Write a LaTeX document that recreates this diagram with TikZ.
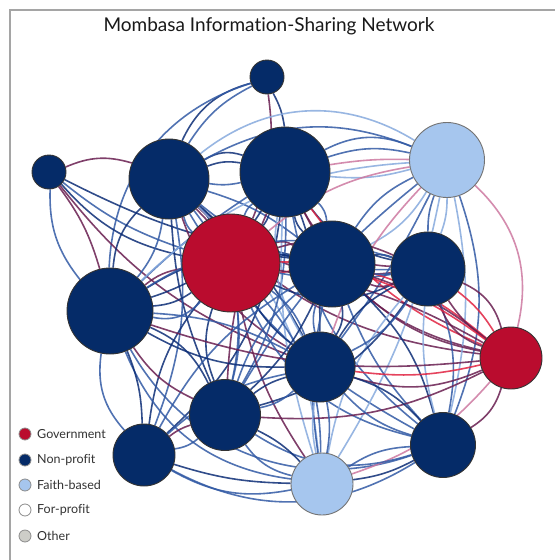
\documentclass[tikz,border=0pt]{standalone}
\usepackage{fontspec}
\setmainfont[Ligatures={NoCommon}]{Lato}
\definecolor{navy}{RGB}{5,43,104}
\definecolor{govred}{RGB}{186,12,46}
\definecolor{faith}{RGB}{166,198,238}
\definecolor{otherg}{RGB}{205,205,200}
\definecolor{cEA}{RGB}{12,45,118}
\definecolor{cEB}{RGB}{50,90,165}
\definecolor{cEC}{RGB}{135,170,222}
\definecolor{cPA}{RGB}{105,30,80}
\definecolor{cPB}{RGB}{205,120,160}
\definecolor{cRA}{RGB}{225,35,65}
\definecolor{framegray}{RGB}{165,165,165}
\pgfdeclarelayer{bg}
\pgfdeclarelayer{edges}
\pgfsetlayers{bg,edges,main}
\tikzset{
  nd/.style={circle, inner sep=0pt, line width=0.9pt, draw=black!80, minimum size=#1},
  nv/.style={nd=#1, fill=navy},
  gv/.style={nd=#1, fill=govred},
  fb/.style={nd=#1, fill=faith, draw=black!55},
  edge/.style={line width=1.6pt, opacity=0.85},
  eA/.style={edge, draw=cEA},
  eB/.style={edge, draw=cEB},
  eC/.style={edge, draw=cEC},
  pA/.style={edge, draw=cPA},
  pB/.style={edge, draw=cPB},
  rA/.style={edge, draw=cRA},
  legdot/.style={circle, inner sep=0pt, minimum size=12pt, line width=0.8pt, draw=black!45},
  legtxt/.style={anchor=west, font=\fontsize{12.5}{14}\selectfont, text=black!80, inner sep=0pt},
}
\begin{document}
\begin{tikzpicture}[x=1pt,y=-1pt]
\useasboundingbox (0,0) rectangle (555,560);
\begin{pgfonlayer}{bg}
  \fill[white] (0,0) rectangle (555,560);
  \draw[framegray, line width=1.5pt] (10,560) -- (10,10) -- (555,10);
\end{pgfonlayer}

\node[anchor=base, font=\fontsize{19}{22}\selectfont, text=black!90] (title) at (269,31) {Mombasa Information-Sharing Network};

% nodes
\node[nv=34pt] (a) at (267,77) {};
\node[nv=34pt] (b) at (49,172) {};
\node[nv=80pt] (c) at (169,179) {};
\node[nv=90pt] (d) at (285,172) {};
\node[fb=75pt] (e) at (447,160) {};
\node[gv=98pt] (f) at (231,263) {};
\node[nv=86pt] (g) at (332,264) {};
\node[nv=74pt] (h) at (428,269) {};
\node[nv=86pt] (i) at (110,311) {};
\node[gv=62pt] (j) at (511,358) {};
\node[nv=70pt] (k) at (320,367) {};
\node[nv=71pt] (l) at (225,415) {};
\node[nv=62pt] (m) at (144,455) {};
\node[fb=62pt] (n) at (322,484) {};
\node[nv=65pt] (o) at (443,445) {};

\begin{pgfonlayer}{edges}
\foreach \s/\t/\st/\b in {
 a/c/eA/-25, a/c/eB/-15, a/d/eA/10, a/f/pA/15, a/i/eB/-35,
 b/c/pA/20, b/i/eB/-20, b/f/eB/-10, b/g/eA/-8, b/k/pA/-15, b/i/pA/10, b/f/eA/-18,
 c/d/eA/15, c/d/eB/-10, c/d/eA/25, c/e/eB/25, c/e/eC/35, c/f/eA/10, c/g/eA/-15,
 c/h/eB/-20, c/h/pA/-25, c/i/eA/-20, c/i/eB/15, c/k/eA/10, c/l/eB/25,
 c/j/pA/-20, c/o/eB/-15, c/n/eC/20, c/f/eB/-15, c/g/eB/10, c/k/pA/-20, c/l/eA/-10, c/m/eB/15,
 d/e/eB/15, d/e/pB/5, d/e/eC/-10, d/f/eA/10, d/g/eA/-15, d/g/eB/20,
 d/h/eA/-20, d/h/pA/-30, d/i/eA/20, d/j/pA/-25, d/j/rA/-15, d/k/eA/10,
 d/l/eB/15, d/o/eB/-20, d/n/eC/-10, d/m/eA/20, d/f/eB/-15, d/k/eC/-20, d/l/pA/-10, d/i/eB/-5,
 e/g/eB/-15, e/h/eB/-10, e/h/eC/10, e/j/pB/30, e/o/eB/20, e/o/eC/12,
 e/k/eB/5, e/n/eC/10, e/f/pB/-15, e/l/eB/-10, e/i/eC/-20, e/g/eC/15, e/k/pB/-12, e/d/eB/-25,
 f/g/eA/10, f/g/rA/-10, f/h/eB/-10, f/h/pA/20, f/i/eA/15, f/i/pA/-15,
 f/j/rA/20, f/j/pA/10, f/k/eA/-10, f/l/eB/10, f/m/eA/-15, f/n/eB/20, f/o/eB/-25,
 f/k/eB/15, f/l/eA/-20, f/i/eB/30, f/g/pA/25, f/h/eA/-25, f/n/pA/-10,
 g/h/eA/15, g/h/eB/-10, g/j/pA/-15, g/j/pA/10, g/k/eA/20, g/l/eB/-15,
 g/o/eA/15, g/n/eB/-10, g/i/eA/-20, g/m/eB/-15, g/k/eB/-15, g/l/eA/10, g/h/pA/-25, g/o/eB/-10,
 h/j/pA/-10, h/j/rA/10, h/j/pA/25, h/k/eA/-15, h/o/eB/15, h/o/eC/-10,
 h/n/eC/-15, h/l/eA/20, h/i/eB/-25, h/k/eB/15, h/j/pA/-25,
 i/k/eA/-15, i/l/eA/20, i/m/eB/-25, i/n/eB/-30, i/o/eB/-40, i/l/pA/-15, i/k/eB/12, i/m/eA/10,
 j/k/rA/10, j/k/pA/20, j/o/pA/20, j/l/pA/15, j/i/pA/12, j/n/pB/15, j/g/rA/-8,
 k/l/eA/-10, k/n/eB/10, k/n/eC/-10, k/o/eA/15, k/m/eB/-15, k/l/eB/15, k/o/eB/-15,
 l/m/pA/-10, l/m/eB/15, l/n/eB/-20, l/o/eB/-25, l/n/eA/10,
 m/n/eB/-20, m/o/eB/-30, n/o/eB/15, n/o/eA/-10, m/n/eA/-8}
 \draw[style=\st] (\s) to[bend left=\b] (\t);
\end{pgfonlayer}

% legend
\node[legdot, fill=govred] (L1) at (25,434) {};
\node[legdot, fill=navy] (L2) at (25,460) {};
\node[legdot, fill=faith] (L3) at (25,485) {};
\node[legdot, fill=white] (L4) at (25,510) {};
\node[legdot, fill=otherg] (L5) at (25,536) {};
\node[legtxt] (T1) at (37,434) {Government};
\node[legtxt] (T2) at (37,460) {Non-profit};
\node[legtxt] (T3) at (37,485) {Faith-based};
\node[legtxt] (T4) at (37,510) {For-profit};
\node[legtxt] (T5) at (37,536) {Other};
\end{tikzpicture}
\end{document}
